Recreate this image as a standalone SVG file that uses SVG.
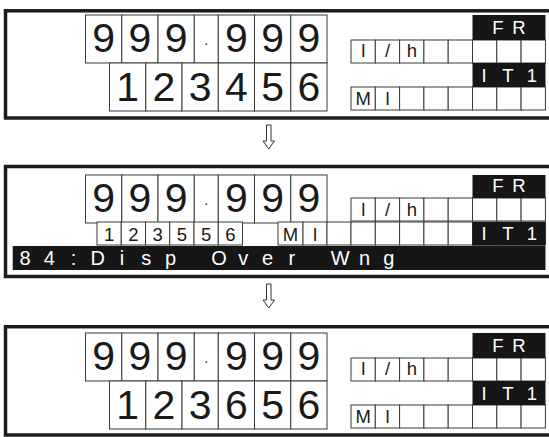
<svg xmlns="http://www.w3.org/2000/svg" width="549" height="437" viewBox="0 0 549 437">
<style>
.frame{fill:none;stroke:#1c1c1c;stroke-width:3.5}
.cell{fill:#fff;stroke:#3a3a3a;stroke-width:1}
.blk{fill:#161616}
text{font-family:"Liberation Sans",Arial,sans-serif;text-anchor:middle;fill:#1a1a1a}
.big{font-size:41px}
.sm{font-size:18.5px}
.inv{fill:#fff}
.arrow{fill:#fff;stroke:#333;stroke-width:1}
</style>
<defs>
<g id="bigcells">
<rect class="cell" x="85.5" y="0" width="36.3" height="48"/>
<rect class="cell" x="121.8" y="0" width="36.2" height="48"/>
<rect class="cell" x="158" y="0" width="36.3" height="48"/>
<rect class="cell" x="194.3" y="0" width="24" height="48"/>
<rect class="cell" x="218.3" y="0" width="36.2" height="48"/>
<rect class="cell" x="254.5" y="0" width="36.3" height="48"/>
<rect class="cell" x="290.8" y="0" width="36.2" height="48"/>
</g>
<g id="bigrow2">
<rect class="cell" x="109.5" y="0" width="36.3" height="48"/>
<rect class="cell" x="145.8" y="0" width="36.2" height="48"/>
<rect class="cell" x="182" y="0" width="36.3" height="48"/>
<rect class="cell" x="218.3" y="0" width="36.2" height="48"/>
<rect class="cell" x="254.5" y="0" width="36.3" height="48"/>
<rect class="cell" x="290.8" y="0" width="36.2" height="48"/>
</g>
<g id="smrow">
<rect class="cell" x="351" y="0" width="24.3" height="23"/>
<rect class="cell" x="375.3" y="0" width="24.3" height="23"/>
<rect class="cell" x="399.6" y="0" width="24.3" height="23"/>
<rect class="cell" x="423.9" y="0" width="24.3" height="23"/>
<rect class="cell" x="448.2" y="0" width="24.3" height="23"/>
<rect class="cell" x="472.5" y="0" width="24.3" height="23"/>
<rect class="cell" x="496.8" y="0" width="24.3" height="23"/>
<rect class="cell" x="521.1" y="0" width="24.3" height="23"/>
</g>
</defs>

<g id="panel1">
<rect class="frame" x="5.5" y="10.8" width="550" height="107.2"/>
<use href="#bigcells" y="15"/>
<use href="#bigrow2" y="63"/>
<use href="#smrow" y="40"/>
<use href="#smrow" y="87"/>
<rect class="blk" x="472.5" y="15" width="73" height="25"/>
<rect class="blk" x="472.5" y="63" width="73" height="24"/>
<text class="big" y="52"><tspan x="103.6">9</tspan><tspan x="139.9">9</tspan><tspan x="176.2">9</tspan><tspan x="206.3" y="45" font-size="14">.</tspan><tspan x="236.4" y="52">9</tspan><tspan x="272.6">9</tspan><tspan x="308.9">9</tspan></text>
<text class="big" x="127.6 163.9 200.1 236.4 272.6 308.9" y="100.5">123456</text>
<text class="sm" x="363.2 387.5 411.8" y="57">l/h</text>
<text class="sm" x="363.2 387.5" y="105">Ml</text>
<text class="sm inv" x="498 519" y="33.5">FR</text>
<text class="sm inv" x="484 508 532" y="81.5">IT1</text>
</g>

<g id="panel2">
<rect class="frame" x="5.5" y="166.5" width="550" height="110"/>
<use href="#bigcells" y="175"/>
<rect class="cell" x="97" y="222" width="24.25" height="23"/>
<rect class="cell" x="121.25" y="222" width="24.25" height="23"/>
<rect class="cell" x="145.5" y="222" width="24.25" height="23"/>
<rect class="cell" x="169.75" y="222" width="24.25" height="23"/>
<rect class="cell" x="194" y="222" width="24.25" height="23"/>
<rect class="cell" x="218.25" y="222" width="24.25" height="23"/>
<rect class="cell" x="278" y="222" width="25" height="23"/>
<rect class="cell" x="303" y="222" width="24" height="23"/>
<rect class="cell" x="327" y="222" width="24" height="23"/>
<use href="#smrow" y="198"/>
<use href="#smrow" y="222"/>
<rect class="blk" x="472.5" y="175" width="73" height="23"/>
<rect class="blk" x="472.5" y="222" width="73" height="23.5"/>
<rect class="blk" x="12.7" y="246" width="532.8" height="24"/>
<text class="big" y="212"><tspan x="103.6">9</tspan><tspan x="139.9">9</tspan><tspan x="176.2">9</tspan><tspan x="206.3" y="205" font-size="14">.</tspan><tspan x="236.4" y="212">9</tspan><tspan x="272.6">9</tspan><tspan x="308.9">9</tspan></text>
<text class="sm" x="109.1 133.4 157.6 181.9 206.1 230.4" y="240.5">123556</text>
<text class="sm" x="290.5 315" y="240.5">Ml</text>
<text class="sm" x="363.2 387.5 411.8" y="215.5">l/h</text>
<text class="sm inv" x="498 519" y="192">FR</text>
<text class="sm inv" x="484 508 532" y="240">IT1</text>
<text class="inv" font-size="20" x="25 49.25 73.5 97.75 122 146.25 170.5 194.75 219 243.25 267.5 291.75 316 340.25 364.5 388.75" y="265">84:Disp Over Wng</text>
</g>

<g id="panel3">
<rect class="frame" x="5.5" y="326.7" width="550" height="108.3"/>
<use href="#bigcells" y="333"/>
<use href="#bigrow2" y="381"/>
<use href="#smrow" y="358"/>
<use href="#smrow" y="405"/>
<rect class="blk" x="472.5" y="333" width="73" height="25"/>
<rect class="blk" x="472.5" y="381" width="73" height="24"/>
<text class="big" y="370"><tspan x="103.6">9</tspan><tspan x="139.9">9</tspan><tspan x="176.2">9</tspan><tspan x="206.3" y="363" font-size="14">.</tspan><tspan x="236.4" y="370">9</tspan><tspan x="272.6">9</tspan><tspan x="308.9">9</tspan></text>
<text class="big" x="127.6 163.9 200.1 236.4 272.6 308.9" y="418.5">123656</text>
<text class="sm" x="363.2 387.5 411.8" y="375">l/h</text>
<text class="sm" x="363.2 387.5" y="423">Ml</text>
<text class="sm inv" x="498 519" y="351.5">FR</text>
<text class="sm inv" x="484 508 532" y="399.5">IT1</text>
</g>

<g id="connectors">
<path class="arrow" d="M266.5,125 L271,125 L271,141 L274.5,141 L268.75,149 L263,141 L266.5,141 Z"/>
<path class="arrow" d="M266.5,284 L271,284 L271,300 L274.5,300 L268.75,308 L263,300 L266.5,300 Z"/>
</g>
</svg>
